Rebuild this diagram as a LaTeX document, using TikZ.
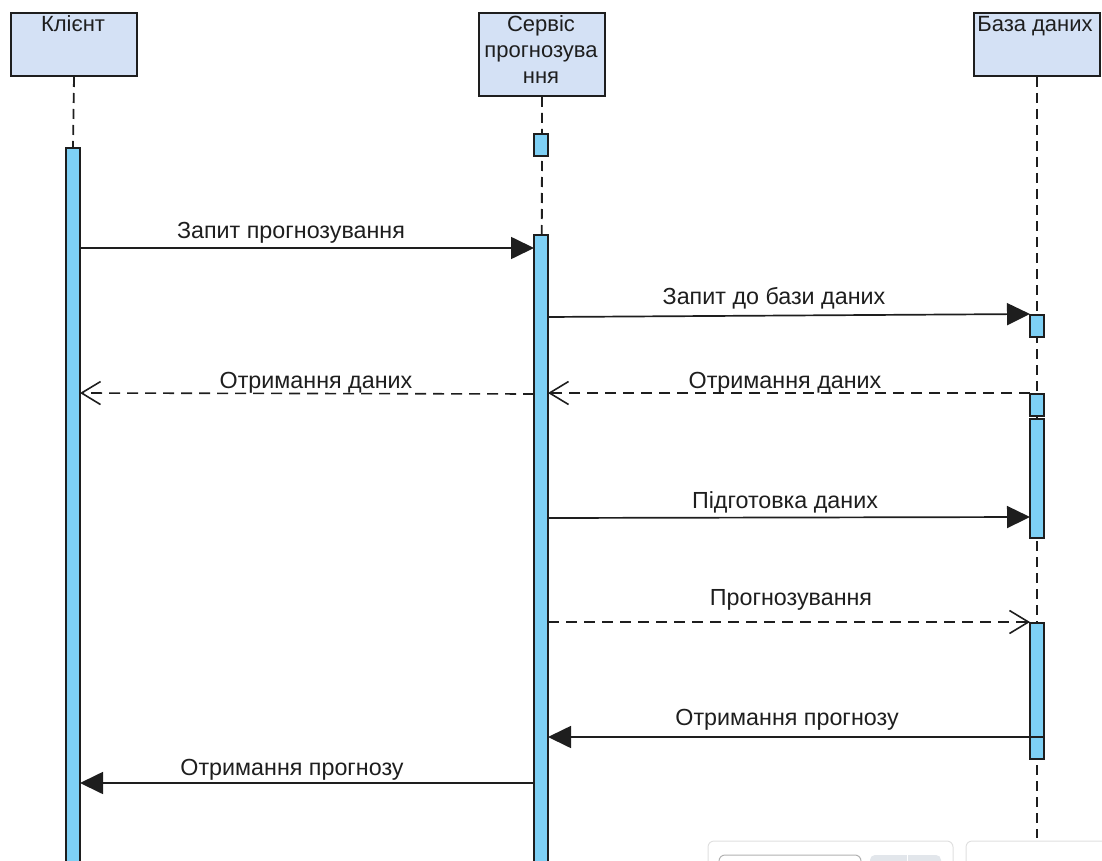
\documentclass[tikz,border=0pt]{standalone}
\usepackage{fontspec}
\setmainfont{Liberation Sans}
\usetikzlibrary{arrows.meta}
\definecolor{headfill}{RGB}{212,225,245}
\definecolor{actfill}{RGB}{126,208,245}
\definecolor{panelgray}{RGB}{226,230,235}
\definecolor{ink}{RGB}{30,30,30}
\tikzset{
  headbox/.style={draw=ink, line width=2pt, fill=headfill, inner sep=0pt, anchor=north west},
  headtext/.style={font=\fontsize{22}{26}\selectfont, text=ink, align=center, inner sep=0pt, anchor=base},
  lifeline/.style={draw=ink, line width=1.8pt, dash pattern=on 10pt off 6pt},
  actbar/.style={draw=ink, line width=1.7pt, fill=actfill, minimum width=14pt, inner sep=0pt, anchor=north},
  syncmsg/.style={draw=ink, line width=1.7pt, -{Triangle[length=23pt,width=22pt]}},
  replymsg/.style={draw=ink, line width=1.6pt, dash pattern=on 11pt off 7pt,
    -{Straight Barb[length=19pt,width=23pt,line width=1.6pt]}},
  msgtext/.style={font=\fontsize{23.3}{26}\selectfont, text=ink, inner sep=0pt, anchor=base},
  panel/.style={draw=black!12, line width=1pt, rounded corners=6pt, fill=white},
}
\begin{document}
\begin{tikzpicture}[x=1pt,y=-1pt]
\useasboundingbox (0,0) rectangle (1102,861);

% participant heads
\node[headbox, minimum width=126pt, minimum height=63pt] (client) at (10,12) {};
\node[headtext] (clientname) at (73,32) {Клієнт};
\node[headbox, minimum width=126pt, minimum height=83pt] (service) at (478,12) {};
% base anchor of a multi-line node sits on its last line
\node[headtext] (servicename) at (541,84) {Сервіс\\прогнозува\\ння};
\node[headbox, minimum width=126pt, minimum height=63pt] (db) at (973,12) {};
\node[headtext] (dbname) at (1035,32) {База даних};

% lifelines
\coordinate (clientend) at (73,147);
\coordinate (serviceend) at (541,861);
\coordinate (dbend) at (1037,838);
\draw[lifeline] (client.south) -- (clientend);
\draw[lifeline] (service.south) -- (serviceend);
\draw[lifeline] (db.south -| dbend) -- (dbend);

% activation bars
\node[actbar, minimum height=730pt] (cact) at (73,147) {};
\node[actbar, minimum height=22pt] (sact0) at (541,133) {};
\node[actbar, minimum height=640pt] (sact) at (541,234) {};
\node[actbar, minimum height=22pt] (dact1) at (1037,314) {};
\node[actbar, minimum height=22pt] (dact2) at (1037,393) {};
\node[actbar, minimum height=119pt] (dact3) at (1037,418) {};
\node[actbar, minimum height=136pt] (dact4) at (1037,622) {};

% message end points
\coordinate (m1a) at (80,248);   \coordinate (m1b) at (534,248);
\coordinate (m2a) at (548,317);  \coordinate (m2b) at (1030,314);
\coordinate (m3a) at (1030,393); \coordinate (m3b) at (548,393);
\coordinate (m4a) at (534,394);  \coordinate (m4b) at (80,393);
\coordinate (m5a) at (548,518);  \coordinate (m5b) at (1030,517);
\coordinate (m6a) at (548,622);  \coordinate (m6b) at (1030,622);
\coordinate (m7a) at (1044,737); \coordinate (m7b) at (548,737);
\coordinate (m8a) at (534,783);  \coordinate (m8b) at (80,783);

% messages
\draw[syncmsg]  (m1a) -- (m1b);
\draw[syncmsg]  (m2a) -- (m2b);
\draw[replymsg] (m3a) -- (m3b);
\draw[replymsg] (m4a) -- (m4b);
\draw[syncmsg]  (m5a) -- (m5b);
\draw[replymsg] (m6a) -- (m6b);
\draw[syncmsg]  (m7a) -- (m7b);
\draw[syncmsg]  (m8a) -- (m8b);

% message labels
\node[msgtext] (l1) at (291,238) {Запит прогнозування};
\node[msgtext] (l2) at (774,304) {Запит до бази даних};
\node[msgtext] (l3) at (785,388) {Отримання даних};
\node[msgtext] (l4) at (316,388) {Отримання даних};
\node[msgtext] (l5) at (785,508) {Підготовка даних};
\node[msgtext] (l6) at (791,605) {Прогнозування};
\node[msgtext] (l7) at (787,725) {Отримання прогнозу};
\node[msgtext] (l8) at (292,775) {Отримання прогнозу};

% toolbar panels along the lower edge
\draw[panel] (708,841) rectangle (953,880);
\draw[panel, draw=black!30] (719,855) rectangle (861,885);
\fill[panelgray, rounded corners=5pt] (870,855) rectangle (941,885);
\draw[white, line width=1pt] (907,855) -- (907,861);
\draw[panel] (966,841) rectangle (1115,880);
\end{tikzpicture}
\end{document}
